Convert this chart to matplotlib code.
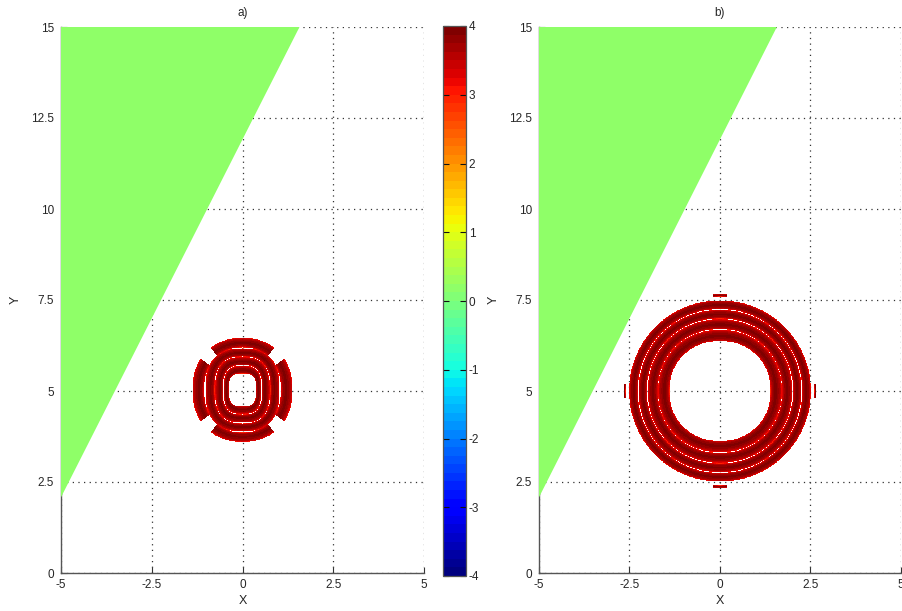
import numpy as np
import matplotlib
matplotlib.use("Agg")
import matplotlib.pyplot as plt
from matplotlib.colors import Normalize

plt.rcParams['font.family'] = ['Liberation Sans', 'DejaVu Sans']

# ---- axes, ticks, colour scale ----
x_ticks = [-5, -2.5, 0, 2.5, 5]
x_tick_labels = ['-5', '-2.5', '0', '2.5', '5']
y_ticks = [0, 2.5, 5, 7.5, 10, 12.5, 15]
y_tick_labels = ['0', '2.5', '5', '7.5', '10', '12.5', '15']
cbar_ticks = [-4, -3, -2, -1, 0, 1, 2, 3, 4]
v_min, v_max = -4, 4
panel_titles = ['a)', 'b)']

# ---- flat region (constant level) bounded by three corners ----
region_x = [-5, 1.57, -5]
region_y = [15, 15, 2.08]
region_value = 0.15

# ---- ring bands, panel a ----
a_center = (0.0, 5.03)
a_rx_in = [0.38, 0.54, 0.77, 1.06]
a_rx_out = [0.52, 0.75, 1.02, 1.38]
a_ry_in = [0.45, 0.68, 0.92, 1.17]
a_ry_out = [0.66, 0.90, 1.14, 1.43]
a_power = [3.0, 2.8, 2.6, 2.2]
a_sector = [45, 45, 45, 37]        # visible half-angle around the x/y axes (deg)

# ---- ring bands, panel b ----
b_center = (0.0, 5.0)
b_rx_in = [1.40, 1.72, 2.02, 2.27, 2.61]
b_rx_out = [1.71, 2.00, 2.25, 2.51, 2.67]
b_ry_in = [1.37, 1.70, 1.99, 2.25, 2.60]
b_ry_out = [1.68, 1.97, 2.23, 2.49, 2.66]
b_power = [2.12, 2.08, 2.05, 2.02, 2.0]
b_sector = [45, 45, 45, 45, 4]

band_peak = 3.9
band_edge = 2.9

cmap = plt.get_cmap('jet', 64)
norm = Normalize(vmin=v_min, vmax=v_max)

step = 0.01
xs = np.arange(-5, 5 + step / 2, step)
ys = np.arange(0, 15 + step / 2, step)
XG, YG = np.meshgrid(xs, ys)


def band_field(center, rx_in, rx_out, ry_in, ry_out, power, sector):
    dx = np.abs(XG - center[0])
    dy = np.abs(YG - center[1])
    ang = np.degrees(np.arctan2(dy, dx))
    off_axis = np.minimum(ang, 90 - ang)
    field = np.full(XG.shape, np.nan)
    for ri, ro, qi, qo, p, sec in zip(rx_in, rx_out, ry_in, ry_out, power, sector):
        s_out = ((dx / ro) ** p + (dy / qo) ** p) ** (1.0 / p)
        s_in = ((dx / ri) ** p + (dy / qi) ** p) ** (1.0 / p)
        inside = (s_out <= 1) & (s_in > 1)
        if sec < 45:
            inside &= off_axis <= sec
        t = (1 - s_out) / np.maximum((1 - s_out) + (s_in - 1), 1e-9)
        t = np.clip(t, 0, 1)
        val = band_edge + (band_peak - band_edge) * np.sin(np.pi * t) ** 0.45
        field[inside] = val[inside]
    return np.ma.masked_invalid(field)


fig = plt.figure(figsize=(9.03, 6.11), dpi=100)
W, H = 903, 611
ax_a = fig.add_axes([61 / W, 38 / H, 363 / W, 546 / H])
ax_b = fig.add_axes([539 / W, 38 / H, 362 / W, 546 / H])
cax = fig.add_axes([443 / W, 35 / H, 23 / W, 550 / H])

text_col = '#262626'
fields = [
    band_field(a_center, a_rx_in, a_rx_out, a_ry_in, a_ry_out, a_power, a_sector),
    band_field(b_center, b_rx_in, b_rx_out, b_ry_in, b_ry_out, b_power, b_sector),
]

img = None
for ax, fld, title in zip([ax_a, ax_b], fields, panel_titles):
    ax.set_axisbelow(True)
    ax.grid(True, linestyle=(0, (1, 3.5)), color='#333333', linewidth=0.9)
    ax.fill(region_x, region_y, color=cmap(norm(region_value)), lw=0, zorder=3)
    img = ax.imshow(fld, cmap=cmap, norm=norm, origin='lower',
                    extent=[xs[0] - step / 2, xs[-1] + step / 2,
                            ys[0] - step / 2, ys[-1] + step / 2],
                    interpolation='nearest', aspect='auto', zorder=2)
    ax.set_xlim(-5, 5)
    ax.set_ylim(0, 15)
    ax.set_xticks(x_ticks)
    ax.set_xticklabels(x_tick_labels)
    ax.set_yticks(y_ticks)
    ax.set_yticklabels(y_tick_labels)
    ax.tick_params(direction='in', length=4, width=0.8, colors='#333333',
                   labelcolor=text_col, labelsize=8.5)
    ax.tick_params(axis='x', pad=4)
    ax.tick_params(axis='y', pad=5)
    for side in ['top', 'right']:
        ax.spines[side].set_visible(False)
    for side in ['left', 'bottom']:
        ax.spines[side].set_color('#555555')
        ax.spines[side].set_linewidth(1.0)
        ax.spines[side].set_zorder(2.5)
    ax.set_xlabel('X', fontsize=9, color=text_col, labelpad=3)
    ax.set_ylabel('Y', fontsize=9, color=text_col, labelpad=7)
    ax.set_title(title, fontsize=8.5, color=text_col, pad=8)

cb = fig.colorbar(img, cax=cax, ticks=cbar_ticks)
cb.ax.set_yticklabels([str(t) for t in cbar_ticks])
cb.outline.set_edgecolor('#555555')
cb.outline.set_linewidth(0.9)
cb.ax.tick_params(direction='in', length=4, width=0.8, left=True, right=True,
                  colors='#111111', labelcolor=text_col, labelsize=8.5, pad=2)

fig.savefig('out.png', dpi=100)
